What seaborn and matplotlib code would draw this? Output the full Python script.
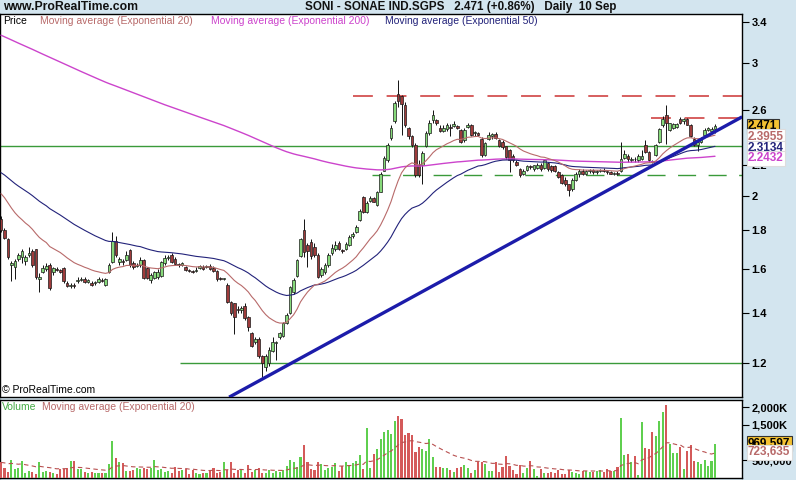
import numpy as np
import pandas as pd
import matplotlib
matplotlib.use("Agg")
import matplotlib.pyplot as plt
import matplotlib.transforms as mtrans
from matplotlib.ticker import FixedLocator, FixedFormatter, NullLocator
import seaborn as sns

# ---------------- data ----------------
opens = [
    1.86, 1.80, 1.75, 1.62, 1.61, 1.65, 1.66, 1.64, 1.67, 1.69,
    1.70, 1.55, 1.585, 1.60, 1.62, 1.585, 1.60, 1.595, 1.605, 1.53,
    1.52, 1.525, 1.54, 1.545, 1.55, 1.535, 1.53, 1.53, 1.535, 1.545,
    1.525, 1.585, 1.635, 1.74, 1.635, 1.64, 1.645, 1.695, 1.63, 1.615,
    1.62, 1.645, 1.605, 1.545, 1.555, 1.56, 1.565, 1.63, 1.655, 1.67,
    1.65, 1.625, 1.62, 1.61, 1.595, 1.59, 1.59, 1.605, 1.61, 1.61,
    1.615, 1.605, 1.59, 1.555, 1.55, 1.525, 1.445, 1.44, 1.415, 1.41,
    1.43, 1.38, 1.315, 1.28, 1.29, 1.225, 1.185, 1.20, 1.245, 1.275,
    1.30, 1.305, 1.355, 1.40, 1.49, 1.565, 1.665, 1.80, 1.72, 1.735,
    1.71, 1.67, 1.57, 1.585, 1.62, 1.68, 1.70, 1.73, 1.695, 1.70,
    1.72, 1.77, 1.79, 1.855, 1.99, 1.905, 1.97, 1.985, 1.945, 2.025,
    2.16, 2.23, 2.385, 2.51, 2.725, 2.71, 2.64, 2.46, 2.40, 2.335,
    2.20, 2.20, 2.325, 2.42, 2.52, 2.52, 2.46, 2.44, 2.45, 2.47,
    2.475, 2.475, 2.445, 2.37, 2.47, 2.485, 2.42, 2.42, 2.38, 2.265,
    2.38, 2.40, 2.415, 2.37, 2.36, 2.325, 2.30, 2.26, 2.22, 2.17,
    2.14, 2.165, 2.19, 2.17, 2.18, 2.20, 2.18, 2.21, 2.19, 2.19,
    2.15, 2.13, 2.10, 2.07, 2.04, 2.10, 2.135, 2.16, 2.14, 2.155,
    2.165, 2.15, 2.16, 2.165, 2.155, 2.15, 2.14, 2.145, 2.155, 2.245,
    2.255, 2.23, 2.24, 2.23, 2.235, 2.335, 2.285, 2.225, 2.265, 2.36,
    2.48, 2.56, 2.445, 2.46, 2.47, 2.53, 2.51, 2.525, 2.485, 2.38,
    2.335, 2.355, 2.41, 2.445, 2.44, 2.45,
]
highs = [
    1.88, 1.81, 1.76, 1.64, 1.65, 1.68, 1.70, 1.67, 1.71, 1.70,
    1.70, 1.58, 1.62, 1.63, 1.63, 1.61, 1.61, 1.60, 1.61, 1.54,
    1.53, 1.53, 1.56, 1.56, 1.56, 1.55, 1.54, 1.54, 1.56, 1.555,
    1.555, 1.63, 1.79, 1.77, 1.66, 1.65, 1.69, 1.70, 1.64, 1.63,
    1.66, 1.65, 1.61, 1.58, 1.59, 1.60, 1.64, 1.67, 1.67, 1.68,
    1.66, 1.63, 1.635, 1.615, 1.60, 1.595, 1.61, 1.62, 1.62, 1.62,
    1.625, 1.615, 1.595, 1.56, 1.555, 1.53, 1.45, 1.44, 1.43, 1.43,
    1.44, 1.385, 1.32, 1.30, 1.30, 1.23, 1.235, 1.26, 1.30, 1.285,
    1.32, 1.36, 1.40, 1.52, 1.555, 1.65, 1.76, 1.86, 1.73, 1.75,
    1.73, 1.68, 1.61, 1.63, 1.68, 1.725, 1.74, 1.74, 1.70, 1.735,
    1.775, 1.79, 1.83, 1.92, 2.00, 1.97, 2.00, 1.99, 2.03, 2.15,
    2.26, 2.35, 2.48, 2.67, 2.85, 2.72, 2.66, 2.47, 2.41, 2.35,
    2.23, 2.29, 2.44, 2.52, 2.60, 2.53, 2.48, 2.48, 2.50, 2.49,
    2.51, 2.48, 2.45, 2.46, 2.50, 2.49, 2.44, 2.43, 2.39, 2.36,
    2.43, 2.42, 2.43, 2.38, 2.37, 2.33, 2.31, 2.27, 2.23, 2.18,
    2.17, 2.20, 2.20, 2.20, 2.21, 2.21, 2.24, 2.22, 2.20, 2.20,
    2.16, 2.14, 2.12, 2.07, 2.11, 2.15, 2.17, 2.17, 2.165, 2.17,
    2.17, 2.165, 2.17, 2.175, 2.16, 2.16, 2.15, 2.155, 2.36, 2.30,
    2.27, 2.25, 2.25, 2.27, 2.30, 2.37, 2.29, 2.23, 2.34, 2.46,
    2.55, 2.64, 2.50, 2.50, 2.50, 2.545, 2.535, 2.535, 2.49, 2.39,
    2.37, 2.39, 2.46, 2.47, 2.465, 2.49,
]
lows = [
    1.79, 1.75, 1.65, 1.54, 1.55, 1.64, 1.63, 1.62, 1.66, 1.61,
    1.55, 1.49, 1.58, 1.59, 1.50, 1.57, 1.59, 1.58, 1.53, 1.515,
    1.51, 1.51, 1.53, 1.54, 1.53, 1.53, 1.52, 1.525, 1.53, 1.535,
    1.52, 1.58, 1.63, 1.66, 1.62, 1.62, 1.64, 1.61, 1.60, 1.61,
    1.61, 1.55, 1.55, 1.53, 1.55, 1.55, 1.56, 1.62, 1.645, 1.63,
    1.62, 1.61, 1.615, 1.59, 1.585, 1.58, 1.585, 1.60, 1.595, 1.605,
    1.595, 1.585, 1.54, 1.545, 1.545, 1.44, 1.39, 1.31, 1.40, 1.40,
    1.37, 1.325, 1.26, 1.27, 1.22, 1.15, 1.17, 1.19, 1.24, 1.21,
    1.29, 1.30, 1.35, 1.395, 1.48, 1.56, 1.66, 1.66, 1.61, 1.65,
    1.66, 1.555, 1.56, 1.575, 1.61, 1.67, 1.69, 1.695, 1.68, 1.695,
    1.715, 1.76, 1.785, 1.85, 1.895, 1.90, 1.96, 1.96, 1.94, 2.02,
    2.155, 2.22, 2.37, 2.50, 2.62, 2.41, 2.47, 2.38, 2.32, 2.12,
    2.12, 2.07, 2.32, 2.41, 2.50, 2.48, 2.43, 2.43, 2.44, 2.40,
    2.47, 2.45, 2.35, 2.36, 2.46, 2.40, 2.40, 2.40, 2.25, 2.26,
    2.37, 2.38, 2.38, 2.32, 2.31, 2.24, 2.15, 2.22, 2.19, 2.12,
    2.13, 2.16, 2.17, 2.16, 2.17, 2.16, 2.17, 2.16, 2.15, 2.15,
    2.11, 2.07, 2.06, 2.00, 2.03, 2.09, 2.12, 2.13, 2.13, 2.145,
    2.14, 2.14, 2.15, 2.15, 2.14, 2.135, 2.13, 2.13, 2.15, 2.24,
    2.22, 2.22, 2.22, 2.22, 2.23, 2.28, 2.22, 2.21, 2.26, 2.35,
    2.47, 2.34, 2.44, 2.45, 2.46, 2.49, 2.49, 2.48, 2.39, 2.33,
    2.29, 2.35, 2.40, 2.44, 2.42, 2.425,
]
closes = [
    1.80, 1.76, 1.66, 1.63, 1.64, 1.67, 1.69, 1.66, 1.68, 1.62,
    1.56, 1.56, 1.605, 1.615, 1.51, 1.605, 1.595, 1.585, 1.54, 1.52,
    1.525, 1.52, 1.545, 1.55, 1.535, 1.545, 1.525, 1.535, 1.55, 1.54,
    1.55, 1.62, 1.74, 1.67, 1.65, 1.635, 1.67, 1.62, 1.61, 1.62,
    1.645, 1.555, 1.555, 1.57, 1.585, 1.585, 1.635, 1.655, 1.66, 1.635,
    1.625, 1.62, 1.63, 1.595, 1.59, 1.585, 1.595, 1.615, 1.60, 1.615,
    1.60, 1.59, 1.55, 1.55, 1.55, 1.445, 1.40, 1.38, 1.41, 1.42,
    1.375, 1.34, 1.265, 1.29, 1.225, 1.20, 1.225, 1.25, 1.28, 1.28,
    1.315, 1.355, 1.39, 1.515, 1.545, 1.645, 1.75, 1.685, 1.69, 1.665,
    1.67, 1.56, 1.60, 1.62, 1.67, 1.705, 1.72, 1.70, 1.69, 1.725,
    1.765, 1.78, 1.82, 1.91, 1.905, 1.955, 1.985, 1.965, 2.02, 2.14,
    2.245, 2.335, 2.46, 2.655, 2.67, 2.645, 2.485, 2.40, 2.335, 2.13,
    2.13, 2.28, 2.42, 2.50, 2.56, 2.50, 2.44, 2.46, 2.485, 2.46,
    2.49, 2.46, 2.36, 2.445, 2.48, 2.41, 2.43, 2.41, 2.265, 2.35,
    2.41, 2.415, 2.385, 2.325, 2.32, 2.25, 2.23, 2.23, 2.20, 2.13,
    2.155, 2.19, 2.185, 2.195, 2.20, 2.17, 2.23, 2.17, 2.165, 2.155,
    2.12, 2.08, 2.07, 2.035, 2.10, 2.14, 2.16, 2.14, 2.16, 2.165,
    2.15, 2.16, 2.165, 2.155, 2.15, 2.14, 2.145, 2.14, 2.235, 2.27,
    2.235, 2.24, 2.235, 2.255, 2.26, 2.285, 2.23, 2.22, 2.335, 2.45,
    2.53, 2.50, 2.495, 2.49, 2.49, 2.50, 2.525, 2.485, 2.40, 2.335,
    2.36, 2.385, 2.445, 2.46, 2.45, 2.471,
]
volumes_k = [
    439, 295, 170, 518, 266, 295, 488, 150, 198, 170,
    102, 459, 170, 198, 170, 131, 102, 266, 266, 295,
    488, 478, 266, 247, 170, 131, 170, 150, 131, 150,
    131, 391, 1038, 555, 439, 420, 198, 198, 227, 295,
    266, 295, 266, 295, 518, 227, 266, 170, 198, 150,
    324, 198, 227, 266, 102, 227, 131, 102, 131, 150,
    227, 295, 150, 170, 459, 227, 459, 150, 227, 227,
    150, 362, 170, 227, 295, 150, 150, 227, 150, 198,
    170, 227, 343, 518, 459, 324, 584, 940, 439, 266,
    227, 459, 391, 227, 295, 324, 420, 198, 343, 459,
    362, 420, 488, 651, 266, 1422, 295, 680, 824, 1107,
    1300, 1355, 1230, 1614, 1740, 1673, 1210, 1260, 1210, 727,
    872, 824, 775, 1107, 583, 324, 324, 295, 295, 227,
    170, 295, 324, 362, 295, 150, 227, 459, 439, 391,
    198, 198, 439, 170, 324, 613, 343, 227, 102, 362,
    131, 295, 488, 266, 44, 266, 150, 150, 170, 150,
    227, 102, 102, 227, 170, 131, 102, 198, 198, 170,
    170, 198, 227, 170, 266, 198, 198, 324, 1702, 651,
    680, 459, 613, 73, 1576, 843, 805, 1300, 1191, 1614,
    1866, 2058, 968, 709, 709, 872, 266, 775, 940, 488,
    440, 400, 520, 330, 480, 969.597,
]

# indicator values at the left edge of the chart (history before the window)
ema20_start = 2.035
ema50_start = 2.16
ema200_start = 3.28
vol_ema_start = 440.0

# drawn objects (price levels)
red_dash_levels = [2.71, 2.535]
red_dash_from = [101.0, 186.5]
green_dash_level = 2.131
green_dash_from = 106.5
green_full_level = 2.33
green_low_level = 1.2
green_low_from = 51.5
trend_x = [65.5, 212.8]
trend_y = [1.081, 2.545]

price_ticks = [1.2, 1.4, 1.6, 1.8, 2.0, 2.2, 2.6, 3.0, 3.4]
price_tick_labels = ["1.2", "1.4", "1.6", "1.8", "2", "2.2", "2.6", "3", "3.4"]
vol_ticks = [500e3, 1500e3, 2000e3]
vol_tick_labels = ["500,000", "1,500K", "2,000K"]

last_labels = ["2.471", "2.3955", "2.3134", "2.2432"]
last_values = [2.471, 2.3955, 2.3134, 2.2432]
vol_last_labels = ["969,597", "723,635"]
vol_last_values = [969597, 723635]

# ---------------- derived ----------------
n = len(closes)
assert len(opens) == n and len(highs) == n and len(lows) == n and len(volumes_k) == n
idx = np.arange(n)
o = np.array(opens); c = np.array(closes); h = np.array(highs); l = np.array(lows)
vol = np.array(volumes_k) * 1000.0
up = c >= o


def ema(values, span, seed):
    s = pd.Series([seed] + list(values), dtype=float)
    return s.ewm(span=span, adjust=False).mean().to_numpy()[1:]


ema20 = ema(closes, 20, ema20_start)
ema50 = ema(closes, 50, ema50_start)
ema200 = ema(closes, 200, ema200_start)
vol_ema = ema(vol, 20, vol_ema_start * 1000)

# ---------------- style ----------------
sns.set_theme(style="white")
plt.rcParams['font.family'] = ['Liberation Sans', 'DejaVu Sans']

BG = '#d3e5ef'
W, H = 796, 480
fig = plt.figure(figsize=(W / 100, H / 100), dpi=100, facecolor=BG)


def rect(x0, y0, x1, y1):
    return [x0 / W, 1 - y1 / H, (x1 - x0) / W, (y1 - y0) / H]


ax = fig.add_axes(rect(0, 14, 742, 397))
axv = fig.add_axes(rect(0, 400, 742, 478))

spacing = 714 / (n - 1)
xlim = (-1 / spacing, 741 / spacing)

C_UP = '#86d97a'
C_DN = '#9e3b3b'
C_E20 = '#b86a6a'
C_E50 = '#22227a'
C_E200 = '#cc44cc'
C_GREEN = '#3a9a3a'
C_RED = '#cc3333'
C_TREND = '#1c1caa'

# ---- price panel ----
ax.set_facecolor('white')
ax.set_yscale('log')

ax.vlines(idx, l, h, color='#111111', lw=0.7, zorder=3)
blo = np.minimum(o, c)
bhi = np.maximum(np.maximum(o, c), blo * 1.0025)
ax.bar(idx[up], (bhi - blo)[up], bottom=blo[up], width=0.75, color=C_UP,
       edgecolor='#1a1a1a', lw=0.5, zorder=4)
ax.bar(idx[~up], (bhi - blo)[~up], bottom=blo[~up], width=0.75, color=C_DN,
       edgecolor='#1a1a1a', lw=0.5, zorder=4)

sns.lineplot(x=idx, y=ema200, ax=ax, color=C_E200, lw=1.0, legend=False, zorder=5)
sns.lineplot(x=idx, y=ema50, ax=ax, color=C_E50, lw=0.8, legend=False, zorder=5)
sns.lineplot(x=idx, y=ema20, ax=ax, color=C_E20, lw=0.8, legend=False, zorder=5)

ax.axhline(green_full_level, color=C_GREEN, lw=1.0, zorder=2)
ax.hlines(green_low_level, green_low_from, xlim[1], color=C_GREEN, lw=1.0, zorder=2)
ax.hlines(green_dash_level, green_dash_from, xlim[1], color=C_GREEN, lw=1.0,
          linestyles=(0, (13, 9)), zorder=2)
for lev, x0 in zip(red_dash_levels, red_dash_from):
    ax.hlines(lev, x0, xlim[1], color=C_RED, lw=1.1, linestyles=(0, (13, 9)), zorder=2)
ax.plot(trend_x, trend_y, color=C_TREND, lw=2.4, solid_capstyle='butt', zorder=6)

ax.set_xlim(*xlim)
ax.set_ylim(1.0816, 3.484)
ax.set_xticks([])
ax.yaxis.tick_right()
ax.yaxis.set_major_locator(FixedLocator(price_ticks))
ax.yaxis.set_major_formatter(FixedFormatter(price_tick_labels))
ax.yaxis.set_minor_locator(NullLocator())
ax.tick_params(axis='y', which='both', direction='out', length=5, width=0.8,
               labelsize=8, pad=2, colors='black', right=True, left=False)
for t in ax.get_yticklabels():
    t.set_fontweight('bold')
ax.set_ylabel('')
for s in ax.spines.values():
    s.set_color('black'); s.set_linewidth(1.0)

# legend texts
yl = (397 - 21) / 383
legend_items = [("Price", 3, 'black'),
                ("Moving average (Exponential 20)", 40, C_E20),
                ("Moving average (Exponential 200)", 211, C_E200),
                ("Moving average (Exponential 50)", 385, C_E50)]
for txt, px, col in legend_items:
    ax.text(px / 742, yl, txt, transform=ax.transAxes, fontsize=7.5, color=col,
            va='center', ha='left', zorder=10)
ax.text(2 / 742, (397 - 390) / 383, "© ProRealTime.com", transform=ax.transAxes,
        fontsize=7.5, color='black', va='center', ha='left', zorder=10)

# right-side value boxes
tr = mtrans.blended_transform_factory(ax.transAxes, ax.transData)
box_styles = [('black', '#f4c232', '#333333'),
              (C_E20, 'white', '#dddddd'),
              (C_E50, 'white', '#dddddd'),
              (C_E200, 'white', '#dddddd')]
for lab, val, (tc, fc, ec) in zip(last_labels, last_values, box_styles):
    ax.text(1.008, val, lab, transform=tr, fontsize=8.5, fontweight='bold', color=tc,
            va='center', ha='left', clip_on=False, zorder=20,
            bbox=dict(boxstyle='square,pad=0.12', fc=fc, ec=ec, lw=0.8))

# ---- volume panel ----
axv.set_facecolor('white')
axv.bar(idx[up], vol[up], width=0.6, color='#5fcf4f', lw=0, zorder=3)
axv.bar(idx[~up], vol[~up], width=0.6, color='#d45a5a', lw=0, zorder=3)
axv.plot(idx, vol_ema, color='#b85050', lw=0.8, ls=(0, (4, 3)), zorder=4)
axv.set_xlim(*xlim)
axv.set_ylim(0, 2200e3)
axv.set_xticks([])
axv.yaxis.tick_right()
axv.yaxis.set_major_locator(FixedLocator(vol_ticks))
axv.yaxis.set_major_formatter(FixedFormatter(vol_tick_labels))
axv.yaxis.set_minor_locator(NullLocator())
axv.tick_params(axis='y', direction='out', length=5, width=0.8, labelsize=8, pad=2,
                colors='black', right=True, left=False)
for t in axv.get_yticklabels():
    t.set_fontweight('bold')
for s in axv.spines.values():
    s.set_color('black'); s.set_linewidth(1.0)

axv.text(2 / 742, (478 - 407) / 78, "Volume", transform=axv.transAxes, fontsize=7.5,
         color='#44aa44', va='center', ha='left', zorder=10)
axv.text(42 / 742, (478 - 407) / 78, "Moving average (Exponential 20)", transform=axv.transAxes,
         fontsize=7.5, color=C_E20, va='center', ha='left', zorder=10)
trv = mtrans.blended_transform_factory(axv.transAxes, axv.transData)
vstyles = [('black', '#f4c232', '#333333'), (C_E20, 'white', '#dddddd')]
for lab, val, (tc, fc, ec) in zip(vol_last_labels, vol_last_values, vstyles):
    axv.text(1.008, val, lab, transform=trv, fontsize=8.5, fontweight='bold', color=tc,
             va='center', ha='left', clip_on=False, zorder=20,
             bbox=dict(boxstyle='square,pad=0.12', fc=fc, ec=ec, lw=0.8))

# ---- title bar ----
fig.text(3 / W, 1 - 7 / H, "www.ProRealTime.com", fontsize=8.8, fontweight='bold',
         color='#111111', va='center', ha='left')
fig.text(305 / W, 1 - 7 / H, "SONI - SONAE IND.SGPS   2.471 (+0.86%)   Daily  10 Sep",
         fontsize=8.4, fontweight='bold', color='#111111', va='center', ha='left')

fig.savefig("out.png", dpi=100, facecolor=BG)
